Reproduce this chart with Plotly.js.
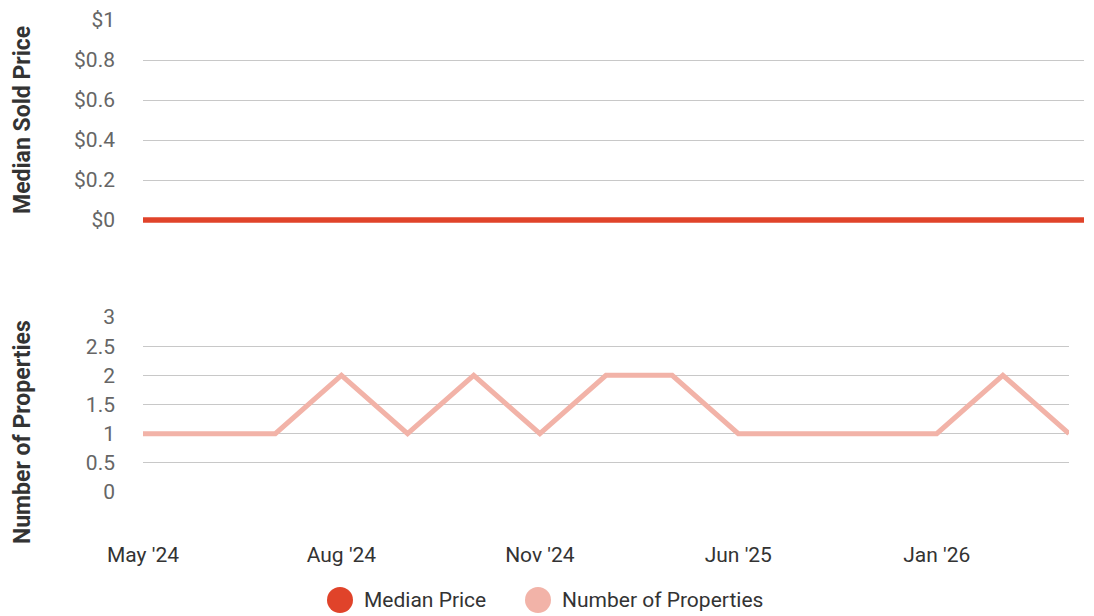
<!DOCTYPE html>
<html>
<head>
<meta charset="utf-8">
<script src="https://cdn.plot.ly/plotly-3.0.1.min.js"></script>
<style>html,body{margin:0;padding:0;background:#fff;}#chart{width:1094px;height:616px;}</style>
</head>
<body>
<div id="chart"></div>
<script>
const months = ["May '24","Jun '24","Jul '24","Aug '24","Sep '24","Oct '24","Nov '24","Dec '24","Mar '25","Jun '25","Aug '25","Oct '25","Jan '26","Feb '26","Mar '26"];
const medianPrice = [0,0,0,0,0,0,0,0,0,0,0,0,0,0,0];
const numProperties = [1,1,1,2,1,2,1,2,2,1,1,1,1,2,1];
const tickLabels = ["May '24","Aug '24","Nov '24","Jun '25","Jan '26"];
const seriesNames = ["Median Price","Number of Properties"];
const seriesColors = ["#E0432A","#F2B3A8"];
const axisTitles = ["Median Sold Price","Number of Properties"];

const W = 1094, H = 616;
const mL = 143, mR = 10, mT = 20, mB = 120;
const pw = W - mL - mR, ph = H - mT - mB;
const px = X => (X - mL) / pw;          // pixel x -> paper x
const py = Y => (mT + ph - Y) / ph;     // pixel y -> paper y

// top panel: value 0 at pixel 220, value 1 at pixel 20 (200 px per unit); extend a little below 0 so the thick line isn't clipped
const topPad = 0.02;

const traces = [
  {x: months, y: medianPrice, xaxis:'x', yaxis:'y', mode:'lines', name: seriesNames[0],
   line:{color: seriesColors[0], width:5.5}, showlegend:false},
  {x: months, y: numProperties, xaxis:'x2', yaxis:'y2', mode:'lines', name: seriesNames[1],
   line:{color: seriesColors[1], width:5}, showlegend:false}
];

const tickFont = {family:'Roboto, sans-serif', size:21, color:'#666'};
const gridColor = '#c8c8c8';
const layout = {
  width: W, height: H,
  margin: {l: mL, r: mR, t: mT, b: mB},
  paper_bgcolor:'#fff', plot_bgcolor:'#fff',
  font: {family:'Roboto, sans-serif'},
  showlegend: false,
  xaxis: {domain:[0,1], type:'category', range:[0, months.length-1], showticklabels:false,
          showgrid:false, zeroline:false, showline:false, anchor:'y'},
  yaxis: {domain:[py(220 + topPad*200), 1], range:[-topPad,1], tickmode:'linear', tick0:0, dtick:0.2, tickprefix:'$', tickfont:tickFont,
          showgrid:true, gridcolor:gridColor, gridwidth:1, zeroline:false, showline:false,
          ticks:'', ticklabelstandoff:27, anchor:'x'},
  xaxis2: {domain:[0, px(1069)], type:'category', range:[0, months.length-1],
           tickmode:'array', tickvals: tickLabels, ticktext: tickLabels,
           tickfont:{family:'Roboto, sans-serif', size:21, color:'#333'},
           showgrid:false, zeroline:false, showline:false, ticks:'', ticklabelstandoff:48, anchor:'y2'},
  yaxis2: {domain:[py(492), py(317)], range:[0,3], dtick:0.5, tickfont:tickFont,
           showgrid:true, gridcolor:gridColor, gridwidth:1, zeroline:false, showline:false,
           ticks:'', ticklabelstandoff:27, anchor:'x2'},
  annotations: [
    {xref:'paper', yref:'paper', x:px(22), y:py(120), text:'<b>'+axisTitles[0]+'</b>', textangle:-90,
     showarrow:false, font:{family:'Roboto, sans-serif', size:23, color:'#333'}, xanchor:'center', yanchor:'middle'},
    {xref:'paper', yref:'paper', x:px(22), y:py(432), text:'<b>'+axisTitles[1]+'</b>', textangle:-90,
     showarrow:false, font:{family:'Roboto, sans-serif', size:23, color:'#333'}, xanchor:'center', yanchor:'middle'},
    {xref:'paper', yref:'paper', x:px(362), y:py(600), text:seriesNames[0], showarrow:false,
     font:{family:'Roboto, sans-serif', size:21, color:'#333'}, xanchor:'left', yanchor:'middle'},
    {xref:'paper', yref:'paper', x:px(560), y:py(600), text:seriesNames[1], showarrow:false,
     font:{family:'Roboto, sans-serif', size:21, color:'#333'}, xanchor:'left', yanchor:'middle'}
  ],
  shapes: [
    {type:'circle', xref:'paper', yref:'paper', xsizemode:'pixel', ysizemode:'pixel',
     xanchor:px(340), yanchor:py(600), x0:-13, x1:13, y0:-13, y1:13,
     fillcolor:seriesColors[0], line:{width:0}},
    {type:'circle', xref:'paper', yref:'paper', xsizemode:'pixel', ysizemode:'pixel',
     xanchor:px(538), yanchor:py(600), x0:-13, x1:13, y0:-13, y1:13,
     fillcolor:seriesColors[1], line:{width:0}}
  ]
};
Plotly.newPlot('chart', traces, layout, {displayModeBar:false, staticPlot:true});
</script>
</body>
</html>
